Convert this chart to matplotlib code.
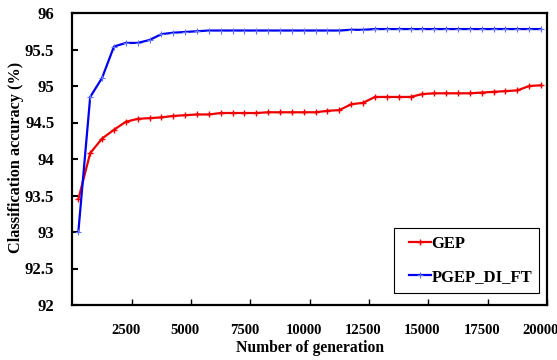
import numpy as np
import matplotlib.pyplot as plt
import matplotlib.transforms as mtransforms
from matplotlib.legend_handler import HandlerLine2D

# generation at which each point was recorded
generations = [250 + 500 * k for k in range(40)]

gep = [93.45, 94.08, 94.28, 94.40, 94.51, 94.55, 94.56, 94.57, 94.59, 94.60,
       94.61, 94.61, 94.63, 94.63, 94.63, 94.63, 94.64, 94.64, 94.64, 94.64,
       94.64, 94.66, 94.67, 94.75, 94.77, 94.85, 94.85, 94.85, 94.85, 94.89,
       94.90, 94.90, 94.90, 94.90, 94.91, 94.92, 94.93, 94.94, 95.00, 95.01]

pgep = [93.00, 94.85, 95.11, 95.54, 95.59, 95.59, 95.63, 95.71, 95.73, 95.74,
        95.75, 95.76, 95.76, 95.76, 95.76, 95.76, 95.76, 95.76, 95.76, 95.76,
        95.76, 95.76, 95.76, 95.77, 95.77, 95.78, 95.78, 95.78, 95.78, 95.78,
        95.78, 95.78, 95.78, 95.78, 95.78, 95.78, 95.78, 95.78, 95.78, 95.78]

xticks = [2500, 5000, 7500, 10000, 12500, 15000, 17500, 20000]
yticks = [92, 92.5, 93, 93.5, 94, 94.5, 95, 95.5, 96]

plt.rcParams['font.family'] = ['Liberation Serif', 'DejaVu Serif']
plt.rcParams['font.weight'] = 'bold'

fig = plt.figure(figsize=(5.57, 3.60), dpi=100)
ax = fig.add_axes([72.4 / 557, 55 / 360, 474.6 / 557, 292 / 360])

l1, = ax.plot(generations, gep, color='#ee0000', lw=1.6, marker='+', ms=4,
              mew=1.0, label='GEP')
l2, = ax.plot(generations, pgep, color='#0000ee', lw=1.6, marker='+', ms=4,
              mew=0.8, mec='#6070ff', label='PGEP_DI_FT')

ax.set_xlim(0, 20000)
ax.set_ylim(92, 96)
ax.set_xticks(xticks)
ax.set_xticklabels([str(t) for t in xticks])
ax.set_yticks(yticks)
ax.set_yticklabels(['92', '92.5', '93', '93.5', '94', '94.5', '95', '95.5', '96'])
ax.tick_params(axis='x', direction='in', length=4, width=1, pad=14, labelsize=10.5)
ax.tick_params(axis='y', direction='in', length=4, width=1.5, pad=13, labelsize=12)
for s in ax.spines.values():
    s.set_linewidth(1.6)

# x tick labels sit a bit left of their ticks in the original
shift = mtransforms.ScaledTranslation(-6 / 100, 0, fig.dpi_scale_trans)
for lab in ax.get_xticklabels():
    lab.set_transform(lab.get_transform() + shift)

ax.set_xlabel('Number of generation', fontsize=11.3, fontweight='bold', labelpad=2)
ax.set_ylabel('Classification accuracy (%)', fontsize=11.7, fontweight='bold')
ax.yaxis.set_label_coords(-0.101, 0.505)

leg = ax.legend(loc='lower left', bbox_to_anchor=(0.678, 0.04, 0.306, 0.232),
                mode='expand', borderaxespad=0, fancybox=False,
                edgecolor='black', fontsize=12,
                handlelength=1.7, handletextpad=0.05, borderpad=0.5,
                labelspacing=1.0, framealpha=1,
                handler_map={l1: HandlerLine2D(xpad=0.4), l2: HandlerLine2D(xpad=0.4)})
leg.get_frame().set_linewidth(0.8)

plt.savefig('out.png', dpi=100)
